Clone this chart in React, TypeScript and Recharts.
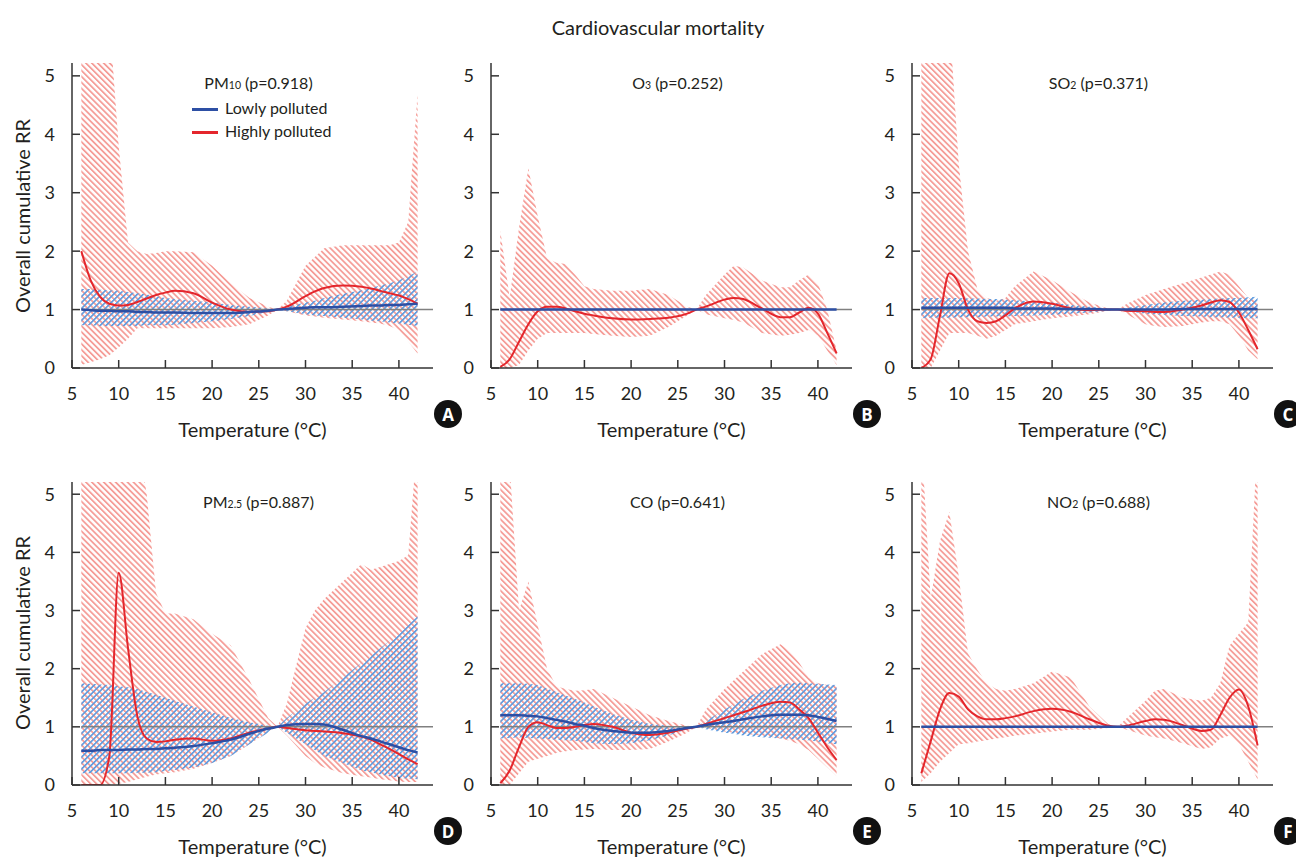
import React from "react";
import { ComposedChart, Area, Line, XAxis, YAxis, ReferenceLine } from "recharts";

// temperature grid (°C) shared by every panel
const TEMPS = [6, 7, 8, 9, 10, 11, 12, 13, 14, 15, 16, 18, 20, 22, 24, 26, 27, 28, 30, 31, 32, 34, 36, 37, 38, 39, 40, 41, 42];
const X_TICKS = [5, 10, 15, 20, 25, 30, 35, 40];
const Y_TICKS = [0, 1, 2, 3, 4, 5];

// A: PM10
const PM10_HIGH = [2.0, 1.5, 1.22, 1.1, 1.07, 1.08, 1.13, 1.19, 1.25, 1.29, 1.32, 1.28, 1.12, 1.0, 0.96, 0.97, 1.0, 1.05, 1.23, 1.31, 1.37, 1.41, 1.39, 1.36, 1.32, 1.28, 1.24, 1.18, 1.1];
const PM10_HIGH_LO = [0.05, 0.1, 0.15, 0.22, 0.35, 0.5, 0.68, 0.68, 0.68, 0.68, 0.68, 0.68, 0.68, 0.7, 0.75, 0.9, 1.0, 0.97, 0.9, 0.88, 0.86, 0.83, 0.8, 0.78, 0.76, 0.72, 0.65, 0.45, 0.25];
const PM10_HIGH_HI = [6, 6, 6, 6, 3.8, 2.15, 2.0, 1.95, 1.97, 2.0, 2.0, 1.98, 1.75, 1.45, 1.2, 1.05, 1.0, 1.15, 1.75, 1.9, 2.05, 2.1, 2.1, 2.1, 2.1, 2.1, 2.15, 2.5, 4.7];
const PM10_LOW = [1.0, 0.99, 0.98, 0.98, 0.97, 0.97, 0.96, 0.96, 0.95, 0.95, 0.95, 0.94, 0.94, 0.94, 0.96, 0.98, 1.0, 1.01, 1.03, 1.04, 1.04, 1.05, 1.06, 1.07, 1.07, 1.08, 1.08, 1.09, 1.1];
const PM10_LOW_LO = [0.73, 0.73, 0.72, 0.72, 0.72, 0.72, 0.72, 0.73, 0.73, 0.73, 0.74, 0.77, 0.8, 0.84, 0.89, 0.96, 1.0, 0.97, 0.92, 0.9, 0.89, 0.86, 0.83, 0.81, 0.8, 0.78, 0.76, 0.74, 0.72];
const PM10_LOW_HI = [1.35, 1.35, 1.34, 1.33, 1.32, 1.3, 1.28, 1.26, 1.23, 1.2, 1.18, 1.15, 1.12, 1.08, 1.05, 1.02, 1.0, 1.05, 1.12, 1.15, 1.2, 1.27, 1.33, 1.37, 1.41, 1.45, 1.5, 1.57, 1.65];

// B: O3
const O3_HIGH = [0.02, 0.15, 0.45, 0.75, 0.97, 1.05, 1.05, 1.02, 0.97, 0.93, 0.9, 0.85, 0.83, 0.84, 0.86, 0.93, 1.0, 1.05, 1.17, 1.2, 1.18, 1.02, 0.87, 0.87, 0.95, 1.03, 0.93, 0.6, 0.25];
const O3_HIGH_LO = [0.0, 0.0, 0.05, 0.3, 0.5, 0.6, 0.6, 0.6, 0.6, 0.6, 0.58, 0.55, 0.53, 0.55, 0.7, 0.9, 1.0, 0.92, 0.85, 0.82, 0.78, 0.6, 0.55, 0.57, 0.6, 0.65, 0.55, 0.3, 0.05];
const O3_HIGH_HI = [2.35, 1.2, 2.4, 3.42, 2.6, 1.88, 1.8, 1.78, 1.6, 1.4, 1.35, 1.32, 1.32, 1.35, 1.25, 1.05, 1.0, 1.25, 1.6, 1.75, 1.72, 1.5, 1.38, 1.38, 1.5, 1.6, 1.45, 1.0, 0.3];
const O3_LOW = [1, 1, 1, 1, 1, 1, 1, 1, 1, 1, 1, 1, 1, 1, 1, 1, 1, 1, 1, 1, 1, 1, 1, 1, 1, 1, 1, 1, 1];

// C: SO2
const SO2_HIGH = [0.0, 0.15, 0.9, 1.62, 1.45, 1.0, 0.8, 0.77, 0.8, 0.9, 1.02, 1.14, 1.1, 1.02, 0.99, 1.0, 1.0, 0.98, 0.97, 0.96, 0.96, 1.0, 1.07, 1.12, 1.16, 1.13, 0.95, 0.65, 0.32];
const SO2_HIGH_LO = [0, 0, 0.3, 0.6, 0.6, 0.6, 0.55, 0.5, 0.55, 0.65, 0.75, 0.8, 0.85, 0.88, 0.92, 0.98, 1.0, 0.92, 0.75, 0.72, 0.7, 0.72, 0.78, 0.8, 0.8, 0.75, 0.55, 0.3, 0.15];
const SO2_HIGH_HI = [6, 6, 6, 6, 3.5, 2.0, 1.35, 1.2, 1.15, 1.2, 1.4, 1.65, 1.5, 1.3, 1.12, 1.02, 1.0, 1.1, 1.25, 1.3, 1.35, 1.45, 1.55, 1.6, 1.65, 1.6, 1.4, 1.2, 1.15];
const SO2_LOW = [1.03, 1.03, 1.03, 1.03, 1.03, 1.03, 1.03, 1.03, 1.03, 1.03, 1.02, 1.02, 1.02, 1.01, 1.01, 1.0, 1.0, 1.0, 1.0, 1.0, 1.0, 1.01, 1.01, 1.01, 1.01, 1.01, 1.01, 1.01, 1.01];
const SO2_LOW_LO = [0.85, 0.86, 0.86, 0.86, 0.87, 0.87, 0.87, 0.88, 0.88, 0.88, 0.89, 0.9, 0.91, 0.93, 0.95, 0.98, 1.0, 0.97, 0.93, 0.92, 0.91, 0.89, 0.88, 0.87, 0.87, 0.86, 0.86, 0.85, 0.85];
const SO2_LOW_HI = [1.2, 1.2, 1.2, 1.2, 1.2, 1.19, 1.19, 1.18, 1.18, 1.17, 1.16, 1.14, 1.12, 1.08, 1.05, 1.02, 1.0, 1.03, 1.08, 1.1, 1.12, 1.15, 1.17, 1.18, 1.19, 1.2, 1.2, 1.21, 1.22];

// D: PM2.5
const PM25_HIGH = [0, 0, 0, 0.5, 3.65, 2.35, 1.18, 0.8, 0.74, 0.75, 0.78, 0.8, 0.76, 0.8, 0.9, 0.97, 1.0, 0.98, 0.94, 0.93, 0.92, 0.89, 0.83, 0.78, 0.7, 0.62, 0.53, 0.44, 0.36];
const PM25_HIGH_LO = [0, 0, 0, 0, 0.02, 0.05, 0.1, 0.14, 0.18, 0.2, 0.22, 0.28, 0.38, 0.5, 0.7, 0.92, 1.0, 0.85, 0.5, 0.38, 0.3, 0.2, 0.15, 0.13, 0.1, 0.08, 0.06, 0.05, 0.05];
const PM25_HIGH_HI = [6, 6, 6, 6, 6, 6, 6, 5.0, 3.3, 2.95, 2.95, 2.85, 2.6, 2.4, 1.8, 1.15, 1.0, 1.4, 2.7, 3.0, 3.2, 3.5, 3.8, 3.7, 3.75, 3.8, 3.85, 3.95, 6];
const PM25_LOW = [0.59, 0.59, 0.6, 0.6, 0.6, 0.61, 0.61, 0.62, 0.62, 0.63, 0.64, 0.67, 0.72, 0.78, 0.88, 0.97, 1.0, 1.03, 1.05, 1.05, 1.04, 0.95, 0.84, 0.8, 0.75, 0.7, 0.65, 0.6, 0.56];
const PM25_LOW_LO = [0.2, 0.2, 0.2, 0.2, 0.2, 0.2, 0.21, 0.21, 0.22, 0.24, 0.26, 0.3, 0.38, 0.5, 0.7, 0.9, 1.0, 0.9, 0.7, 0.6, 0.5, 0.38, 0.25, 0.22, 0.18, 0.15, 0.12, 0.11, 0.1];
const PM25_LOW_HI = [1.75, 1.74, 1.73, 1.72, 1.7, 1.68, 1.65, 1.6, 1.55, 1.5, 1.45, 1.35, 1.25, 1.15, 1.08, 1.02, 1.0, 1.15, 1.4, 1.5, 1.6, 1.85, 2.1, 2.22, 2.35, 2.48, 2.6, 2.75, 2.9];

// E: CO
const CO_HIGH = [0.03, 0.25, 0.65, 1.0, 1.08, 1.03, 0.98, 0.98, 1.0, 1.03, 1.05, 1.0, 0.9, 0.86, 0.9, 0.97, 1.0, 1.05, 1.15, 1.2, 1.25, 1.36, 1.43, 1.42, 1.3, 1.15, 0.9, 0.65, 0.43];
const CO_HIGH_LO = [0, 0, 0.2, 0.4, 0.45, 0.5, 0.55, 0.58, 0.6, 0.61, 0.62, 0.6, 0.6, 0.62, 0.75, 0.9, 1.0, 0.98, 0.92, 0.9, 0.88, 0.85, 0.8, 0.76, 0.7, 0.6, 0.45, 0.3, 0.15];
const CO_HIGH_HI = [6, 5.5, 3.0, 3.5, 2.75, 2.0, 1.7, 1.65, 1.62, 1.63, 1.65, 1.5, 1.35, 1.2, 1.1, 1.02, 1.0, 1.3, 1.65, 1.8, 1.95, 2.25, 2.42, 2.3, 2.1, 1.85, 1.75, 1.72, 1.7];
const CO_LOW = [1.2, 1.2, 1.2, 1.19, 1.18, 1.15, 1.12, 1.09, 1.05, 1.02, 0.98, 0.93, 0.9, 0.9, 0.93, 0.98, 1.0, 1.03, 1.08, 1.1, 1.13, 1.18, 1.21, 1.21, 1.21, 1.2, 1.17, 1.14, 1.1];
const CO_LOW_LO = [0.8, 0.81, 0.82, 0.81, 0.8, 0.79, 0.78, 0.77, 0.76, 0.74, 0.72, 0.7, 0.72, 0.77, 0.85, 0.96, 1.0, 0.96, 0.9, 0.88, 0.85, 0.82, 0.8, 0.79, 0.78, 0.77, 0.75, 0.72, 0.7];
const CO_LOW_HI = [1.75, 1.75, 1.75, 1.74, 1.72, 1.66, 1.6, 1.54, 1.48, 1.42, 1.35, 1.22, 1.12, 1.05, 1.02, 1.0, 1.0, 1.1, 1.3, 1.39, 1.48, 1.62, 1.72, 1.75, 1.76, 1.75, 1.74, 1.73, 1.72];

// F: NO2
const NO2_HIGH = [0.2, 0.75, 1.3, 1.58, 1.52, 1.3, 1.18, 1.13, 1.13, 1.15, 1.18, 1.27, 1.31, 1.26, 1.13, 1.02, 1.0, 1.02, 1.1, 1.13, 1.12, 1.03, 0.93, 0.95, 1.2, 1.5, 1.64, 1.35, 0.68];
const NO2_HIGH_LO = [0.05, 0.2, 0.4, 0.55, 0.7, 0.72, 0.75, 0.77, 0.8, 0.82, 0.85, 0.88, 0.92, 0.95, 0.95, 0.98, 1.0, 0.95, 0.85, 0.82, 0.8, 0.72, 0.62, 0.65, 0.8, 0.85, 0.7, 0.4, 0.1];
const NO2_HIGH_HI = [6, 3.2, 4.2, 4.7, 3.6, 2.26, 1.98, 1.75, 1.65, 1.62, 1.65, 1.75, 1.95, 1.85, 1.35, 1.05, 1.0, 1.15, 1.45, 1.62, 1.65, 1.5, 1.45, 1.5, 1.75, 2.4, 2.6, 2.8, 6];
const NO2_LOW = [1, 1, 1, 1, 1, 1, 1, 1, 1, 1, 1, 1, 1, 1, 1, 1, 1, 1, 1, 1, 1, 1, 1, 1, 1, 1, 1, 1, 1];

const FONT = "Lato, 'Noto Sans', sans-serif";
const RED = "#e4262c";
const BLUE = "#2d4fa4";
const PLOT_W = 361;
const X_MAX = 43.65;

const PANELS = [
  { letter: "A", name: "PM", sub: "10", p: "0.918", left: 72, top: 63, h: 305, yMax: 5.22, high: PM10_HIGH, highLo: PM10_HIGH_LO, highHi: PM10_HIGH_HI, low: PM10_LOW, lowLo: PM10_LOW_LO, lowHi: PM10_LOW_HI },
  { letter: "B", name: "O", sub: "3", p: "0.252", left: 491, top: 63, h: 305, yMax: 5.22, high: O3_HIGH, highLo: O3_HIGH_LO, highHi: O3_HIGH_HI, low: O3_LOW },
  { letter: "C", name: "SO", sub: "2", p: "0.371", left: 912, top: 63, h: 305, yMax: 5.22, high: SO2_HIGH, highLo: SO2_HIGH_LO, highHi: SO2_HIGH_HI, low: SO2_LOW, lowLo: SO2_LOW_LO, lowHi: SO2_LOW_HI },
  { letter: "D", name: "PM", sub: "2.5", p: "0.887", left: 72, top: 482, h: 303, yMax: 5.21, high: PM25_HIGH, highLo: PM25_HIGH_LO, highHi: PM25_HIGH_HI, low: PM25_LOW, lowLo: PM25_LOW_LO, lowHi: PM25_LOW_HI },
  { letter: "E", name: "CO", sub: "", p: "0.641", left: 491, top: 482, h: 303, yMax: 5.21, high: CO_HIGH, highLo: CO_HIGH_LO, highHi: CO_HIGH_HI, low: CO_LOW, lowLo: CO_LOW_LO, lowHi: CO_LOW_HI },
  { letter: "F", name: "NO", sub: "2", p: "0.688", left: 912, top: 482, h: 303, yMax: 5.21, high: NO2_HIGH, highLo: NO2_HIGH_LO, highHi: NO2_HIGH_HI, low: NO2_LOW },
];

const centered = (x: number, y: number, extra: React.CSSProperties = {}): React.CSSProperties => ({
  position: "absolute",
  left: x,
  top: y,
  transform: "translate(-50%, -50%)",
  whiteSpace: "nowrap",
  lineHeight: 1,
  fontFamily: FONT,
  color: "#231f20",
  ...extra,
});

function Panel({ cfg }: { cfg: any }) {
  const data = TEMPS.map((t, i) => ({
    t,
    high: cfg.high[i],
    highBand: [cfg.highLo[i], cfg.highHi[i]],
    low: cfg.low[i],
    lowBand: cfg.lowLo ? [cfg.lowLo[i], cfg.lowHi[i]] : undefined,
  }));
  const id = cfg.letter;
  const tickStyle = { fill: "#231f20", fontSize: 18, fontFamily: FONT };
  const midX = cfg.left + PLOT_W / 2;
  return (
    <>
      <div style={{ position: "absolute", left: cfg.left - 45, top: cfg.top - 10 }}>
        <ComposedChart width={45 + PLOT_W + 10} height={cfg.h + 55} data={data} margin={{ top: 10, right: 10, bottom: 0, left: 0 }}>
          <defs>
            <pattern id={`red-${id}`} patternUnits="userSpaceOnUse" width={4.2} height={4.2} patternTransform="rotate(-45)">
              <rect x={0} y={0} width={1.8} height={4.2} fill="#f59d98" />
            </pattern>
            <pattern id={`blue-${id}`} patternUnits="userSpaceOnUse" width={4.2} height={4.2} patternTransform="rotate(45)">
              <rect x={0} y={0} width={1.6} height={4.2} fill="#5c9be0" />
            </pattern>
          </defs>
          <XAxis
            dataKey="t"
            type="number"
            domain={[5, X_MAX]}
            ticks={X_TICKS}
            interval={0}
            allowDataOverflow
            height={45}
            tickSize={-8}
            tickMargin={27}
            stroke="#333"
            strokeWidth={1.5}
            tick={tickStyle}
          />
          <YAxis
            type="number"
            domain={[0, cfg.yMax]}
            ticks={Y_TICKS}
            interval={0}
            allowDataOverflow
            width={45}
            tickSize={-8}
            tickMargin={25}
            stroke="#333"
            strokeWidth={1.5}
            tick={tickStyle}
          />
          <Area dataKey="highBand" type="linear" stroke="none" fill={`url(#red-${id})`} fillOpacity={1} isAnimationActive={false} />
          {cfg.lowLo && (
            <Area dataKey="lowBand" type="linear" stroke="none" fill={`url(#blue-${id})`} fillOpacity={1} isAnimationActive={false} />
          )}
          <ReferenceLine segment={[{ x: 6, y: 1 }, { x: X_MAX, y: 1 }]} stroke="#808080" strokeWidth={1.5} />
          <Line dataKey="high" type="monotone" stroke={RED} strokeWidth={2} dot={false} isAnimationActive={false} />
          <Line dataKey="low" type="monotone" stroke={BLUE} strokeWidth={2.5} dot={false} isAnimationActive={false} />
        </ComposedChart>
      </div>
      <div style={centered(midX + 6, cfg.top + 20, { fontSize: 16 })}>
        {cfg.name}
        {cfg.sub && <span style={{ fontSize: 10.5 }}>{cfg.sub}</span>} (p={cfg.p})
      </div>
      <div style={centered(midX, cfg.top + cfg.h + 61, { fontSize: 20 })}>Temperature (°C)</div>
      <div
        style={centered(cfg.left + 376, cfg.top + cfg.h + 46, {
          width: 28,
          height: 28,
          borderRadius: "50%",
          background: "#111",
          color: "#fff",
          fontWeight: 700,
          fontSize: 17,
          display: "flex",
          alignItems: "center",
          justifyContent: "center",
          fontFamily: "'Open Sans', sans-serif",
        })}
      >
        {cfg.letter}
      </div>
    </>
  );
}

export default function App() {
  return (
    <div style={{ position: "absolute", left: 0, top: 0, width: 1296, height: 857, background: "#fff", overflow: "hidden" }}>
      <div style={centered(658, 27, { fontSize: 20 })}>Cardiovascular mortality</div>
      <div style={centered(22, 216, { fontSize: 20, transform: "translate(-50%, -50%) rotate(-90deg)" })}>Overall cumulative RR</div>
      <div style={centered(22, 633, { fontSize: 20, transform: "translate(-50%, -50%) rotate(-90deg)" })}>Overall cumulative RR</div>
      {PANELS.map((cfg) => (
        <Panel key={cfg.letter} cfg={cfg} />
      ))}
      {/* legend of panel A */}
      <div style={{ position: "absolute", left: 192, top: 108, width: 26, height: 2.5, background: BLUE }} />
      <div style={{ position: "absolute", left: 192, top: 131, width: 26, height: 2.5, background: RED }} />
      <div style={{ position: "absolute", left: 225, top: 100, fontSize: 16, fontFamily: FONT, lineHeight: 1, color: "#231f20" }}>Lowly polluted</div>
      <div style={{ position: "absolute", left: 225, top: 123, fontSize: 16, fontFamily: FONT, lineHeight: 1, color: "#231f20" }}>Highly polluted</div>
    </div>
  );
}
